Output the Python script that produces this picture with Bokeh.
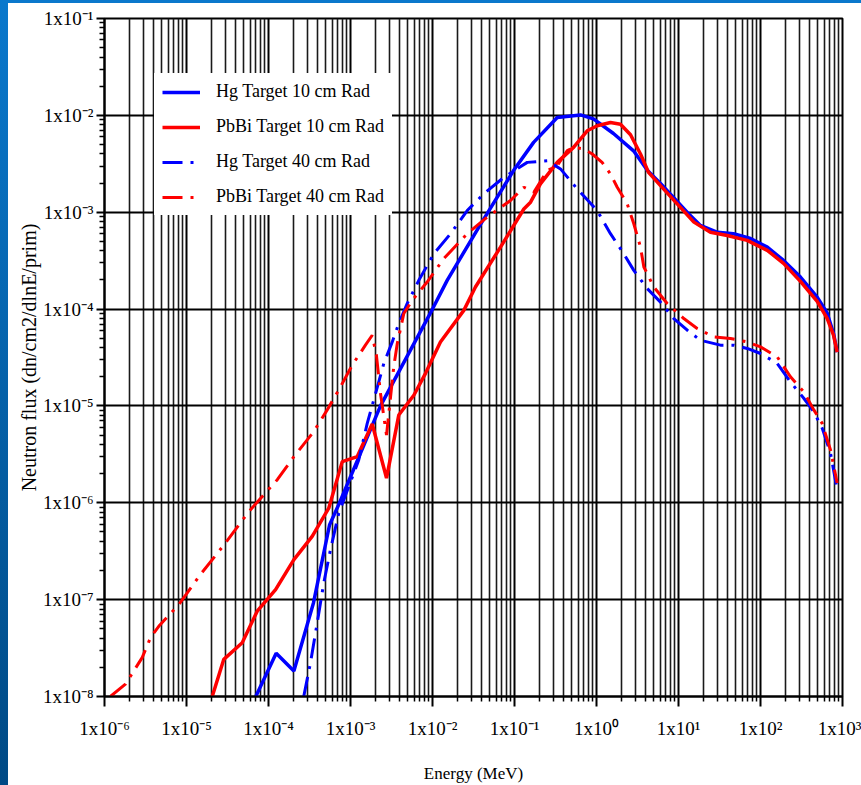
from bokeh.plotting import figure
from bokeh.models import Range1d, FixedTicker, Spacer
from bokeh.layouts import column, row
from bokeh.embed import file_html
from bokeh.resources import INLINE

# ---------------- data (energy in MeV, flux in dn/cm2/dlnE/prim) ----------------
energy_hg10 = [7.0e-5, 1.24e-4, 2.04e-4, 3.54e-4, 5.55e-4, 7.35e-4, 2.32e-3, 1.0e-2, 1.51e-2,
               3.85e-2, 9.73e-2, 0.171, 0.332, 0.638, 0.918, 1.61, 2.83, 4.19, 6.03, 8.69,
               12.9, 18.5, 29.9, 46.9, 75.5, 121, 191, 307, 491, 650, 777, 861]
flux_hg10 = [1.0e-8, 2.79e-8, 1.83e-8, 9.3e-8, 5.9e-7, 1.0e-6, 1.0e-5, 1.0e-4, 1.98e-4,
             7.5e-4, 2.69e-3, 5.26e-3, 9.5e-3, 1.01e-2, 9.2e-3, 6.5e-3, 4.3e-3, 2.69e-3, 1.98e-3, 1.42e-3,
             9.9e-4, 7.3e-4, 6.2e-4, 6.0e-4, 5.36e-4, 4.36e-4, 3.18e-4, 2.14e-4, 1.33e-4, 9.1e-5, 5.6e-5, 3.6e-5]

energy_pbbi10 = [2.06e-5, 2.85e-5, 4.78e-5, 7.28e-5, 1.22e-4, 2.04e-4, 3.41e-4, 5.43e-4, 7.93e-4,
                 1.21e-3, 1.84e-3, 2.75e-3, 3.88e-3, 5.92e-3, 8.22e-3, 1.25e-2, 2.41e-2, 3.34e-2,
                 6.75e-2, 0.130, 0.157, 0.207, 0.332, 0.525, 0.771, 1.02, 1.48, 1.96, 2.60, 3.44,
                 4.31, 6.03, 9.64, 15.4, 24.5, 39.3, 68.8, 121, 191, 307, 491, 650, 777, 861]
flux_pbbi10 = [1.0e-8, 2.42e-8, 3.59e-8, 7.6e-8, 1.27e-7, 2.59e-7, 4.5e-7, 8.8e-7, 2.66e-6,
               3.0e-6, 6.5e-6, 1.8e-6, 8.05e-6, 1.29e-5, 2.17e-5, 4.58e-5, 9.7e-5, 1.69e-4,
               4.36e-4, 1.08e-3, 1.27e-3, 1.96e-3, 3.27e-3, 4.67e-3, 6.93e-3, 7.8e-3, 8.45e-3, 8.1e-3, 6.3e-3, 3.99e-3,
               2.58e-3, 1.88e-3, 1.22e-3, 7.9e-4, 6.2e-4, 5.75e-4, 5.12e-4, 4.04e-4, 2.96e-4, 1.93e-4, 1.20e-4, 8.0e-5, 5.37e-5, 3.59e-5]

energy_hg40 = [2.69e-4, 3.25e-4, 3.93e-4, 4.72e-4, 5.70e-4, 7.19e-4, 1.26e-3, 1.60e-3, 1.92e-3,
               2.55e-3, 3.23e-3, 3.88e-3, 4.91e-3, 6.81e-3, 1.04e-2, 1.66e-2, 2.65e-2, 4.23e-2,
               7.41e-2, 0.143, 0.251, 0.364, 0.582, 1.02, 1.48, 2.15, 2.85, 4.15, 6.03, 8.77,
               12.8, 18.5, 32.5, 47.2, 68.8, 100, 160, 232, 337, 447, 565, 714, 861]
flux_hg40 = [1.0e-8, 2.23e-8, 5.77e-8, 1.49e-7, 3.28e-7, 7.8e-7, 2.77e-6, 6.6e-6, 1.15e-5,
             2.75e-5, 4.58e-5, 7.1e-5, 1.14e-4, 1.98e-4, 3.73e-4, 6.0e-4, 1.04e-3, 1.55e-3,
             2.29e-3, 3.27e-3, 3.40e-3, 2.80e-3, 1.74e-3, 1.04e-3, 6.0e-4, 3.73e-4, 2.51e-4, 1.63e-4, 1.18e-4, 7.98e-5,
             6.05e-5, 4.77e-5, 4.24e-5, 4.24e-5, 3.92e-5, 3.48e-5, 2.75e-5, 1.77e-5, 1.20e-5, 8.7e-6, 5.9e-6, 3.25e-6, 1.36e-6]

energy_pbbi40 = [1.18e-6, 1.80e-6, 2.88e-6, 3.64e-6, 4.59e-6, 8.05e-6, 1.48e-5, 2.99e-5, 5.75e-5,
                 1.28e-4, 2.04e-4, 3.56e-4, 5.2e-4, 7.19e-4, 1.05e-3, 1.52e-3, 1.84e-3, 2.07e-3,
                 2.32e-3, 2.75e-3, 3.08e-3, 3.37e-3, 3.72e-3, 4.47e-3, 5.65e-3, 8.6e-3, 1.37e-2,
                 2.65e-2, 4.65e-2, 8.93e-2, 0.130, 0.172, 0.251, 0.332, 0.44, 0.528, 0.70, 0.887,
                 1.17, 1.48, 1.79, 2.37, 2.85, 3.44, 3.78, 5.0, 7.28, 11.6, 16.9, 26.9, 43.1,
                 68.8, 100, 160, 232, 337, 447, 565, 714, 861]
flux_pbbi40 = [1.0e-8, 1.34e-8, 2.52e-8, 4.05e-8, 5.3e-8, 8.9e-8, 1.82e-7, 3.85e-7, 8.1e-7,
               1.73e-6, 3.0e-6, 5.42e-6, 9.1e-6, 1.46e-5, 2.64e-5, 4.24e-5, 5.37e-5, 3.34e-5,
               1.35e-5, 5.0e-6, 1.24e-5, 2.54e-5, 4.41e-5, 9.0e-5, 1.23e-4, 1.90e-4, 3.31e-4,
               6.0e-4, 8.9e-4, 1.32e-3, 1.81e-3, 1.61e-3, 2.69e-3, 3.03e-3, 4.32e-3, 4.67e-3, 4.5e-3, 3.99e-3,
               3.27e-3, 2.48e-3, 1.81e-3, 1.22e-3, 7.6e-4, 4.36e-4, 2.72e-4, 1.69e-4, 1.14e-4, 7.98e-5, 6.3e-5, 5.16e-5, 4.97e-5,
               4.58e-5, 4.07e-5, 3.21e-5, 2.0e-5, 1.40e-5, 9.1e-6, 6.6e-6, 3.51e-6, 1.6e-6]

series_labels = ["Hg Target 10 cm Rad", "PbBi Target 10 cm Rad",
                 "Hg Target 40 cm Rad", "PbBi Target 40 cm Rad"]

x_ticks = [1e-6, 1e-5, 1e-4, 1e-3, 1e-2, 1e-1, 1e0, 1e1, 1e2, 1e3]
x_tick_labels = ["1x10⁻⁶", "1x10⁻⁵", "1x10⁻⁴", "1x10⁻³", "1x10⁻²",
                 "1x10⁻¹", "1x10⁰", "1x10¹", "1x10²", "1x10³"]
y_ticks = [1e-8, 1e-7, 1e-6, 1e-5, 1e-4, 1e-3, 1e-2, 1e-1]
y_tick_labels = ["1x10⁻⁸", "1x10⁻⁷", "1x10⁻⁶", "1x10⁻⁵",
                 "1x10⁻⁴", "1x10⁻³", "1x10⁻²", "1x10⁻¹"]

x_title = "Energy (MeV)"
y_title = "Neutron flux (dn/cm2/dlnE/prim)"

# ---------------- figure ----------------
FONT = "Liberation Serif"
BLUE = "#0000ff"
RED = "#ff0000"
DASHDOT = "20 8 3 8"

p = figure(width=853, height=782,
           x_axis_type="log", y_axis_type="log",
           x_range=Range1d(x_ticks[0], x_ticks[-1]),
           y_range=Range1d(y_ticks[0], y_ticks[-1]),
           output_backend="svg", toolbar_location=None,
           min_border_left=96, min_border_right=19, min_border_top=15, min_border_bottom=88,
           x_axis_label=x_title, y_axis_label=y_title)

p.background_fill_color = "white"
p.border_fill_color = "white"
p.outline_line_color = "black"
p.outline_line_width = 2

minor_x = [m * t for t in x_ticks[:-1] for m in range(2, 10)]
minor_y = [m * t for t in y_ticks[:-1] for m in range(2, 10)]

xt = FixedTicker(ticks=x_ticks, minor_ticks=minor_x)
yt = FixedTicker(ticks=y_ticks, minor_ticks=minor_y)
p.xaxis.ticker = xt
p.yaxis.ticker = yt
p.xgrid.ticker = xt
p.ygrid.ticker = yt
p.xaxis.major_label_overrides = dict(zip(x_ticks, x_tick_labels))
p.yaxis.major_label_overrides = dict(zip(y_ticks, y_tick_labels))

p.xgrid.grid_line_color = "black"
p.xgrid.grid_line_width = 2
p.xgrid.grid_line_alpha = 1
p.xgrid.minor_grid_line_color = "#1a1a1a"
p.xgrid.minor_grid_line_width = 1.6
p.ygrid.grid_line_color = "black"
p.ygrid.grid_line_width = 2
p.ygrid.grid_line_alpha = 1
p.ygrid.minor_grid_line_color = None

for ax in (p.xaxis, p.yaxis):
    ax.axis_line_color = "black"
    ax.axis_line_width = 2
    ax.major_tick_line_color = "black"
    ax.major_tick_line_width = 2
    ax.minor_tick_line_color = "black"
    ax.minor_tick_line_width = 1.5
    ax.major_tick_in = 0
    ax.minor_tick_in = 0
    ax.minor_tick_out = 5
    ax.major_label_text_font = FONT
    ax.major_label_text_font_size = "19px"
    ax.major_label_text_color = "black"
    ax.axis_label_text_font = FONT
    ax.axis_label_text_font_style = "normal"
    ax.axis_label_text_color = "black"

p.xaxis.major_tick_out = 10
p.yaxis.major_tick_out = 8
p.xaxis.major_label_standoff = 11
p.yaxis.major_label_standoff = 3
p.xaxis.axis_label_text_font_size = "17px"
p.yaxis.axis_label_text_font_size = "20px"
p.xaxis.axis_label_standoff = 22
p.yaxis.axis_label_standoff = 0

# ---------------- curves ----------------
p.line(energy_hg10, flux_hg10, line_color=BLUE, line_width=3.5, legend_label=series_labels[0])
p.line(energy_pbbi10, flux_pbbi10, line_color=RED, line_width=3.5, legend_label=series_labels[1])
p.line(energy_hg40, flux_hg40, line_color=BLUE, line_width=3, line_dash=DASHDOT, legend_label=series_labels[2])
p.line(energy_pbbi40, flux_pbbi40, line_color=RED, line_width=3, line_dash=DASHDOT, legend_label=series_labels[3])

# ---------------- legend ----------------
lg = p.legend[0]
lg.location = (50, 481)
lg.label_text_font = FONT
lg.label_text_font_size = "18px"
lg.label_text_color = "black"
lg.glyph_width = 38
lg.glyph_height = 20
lg.label_height = 20
lg.spacing = 14
lg.padding = 8
lg.margin = 0
lg.label_standoff = 16
lg.border_line_alpha = 0
lg.background_fill_color = "white"
lg.background_fill_alpha = 1

# ---------------- slide frame (blue edges of the original screenshot) ----------------
top_edge = Spacer(width=861, height=3, styles={"background": "#0a78cc"})
left_edge = Spacer(width=8, height=782, styles={"background": "linear-gradient(#0a78cc, #004a85)"})
page = column(top_edge, row(left_edge, p, spacing=0), spacing=0)

open("out.html", "w").write(file_html(page, INLINE))
